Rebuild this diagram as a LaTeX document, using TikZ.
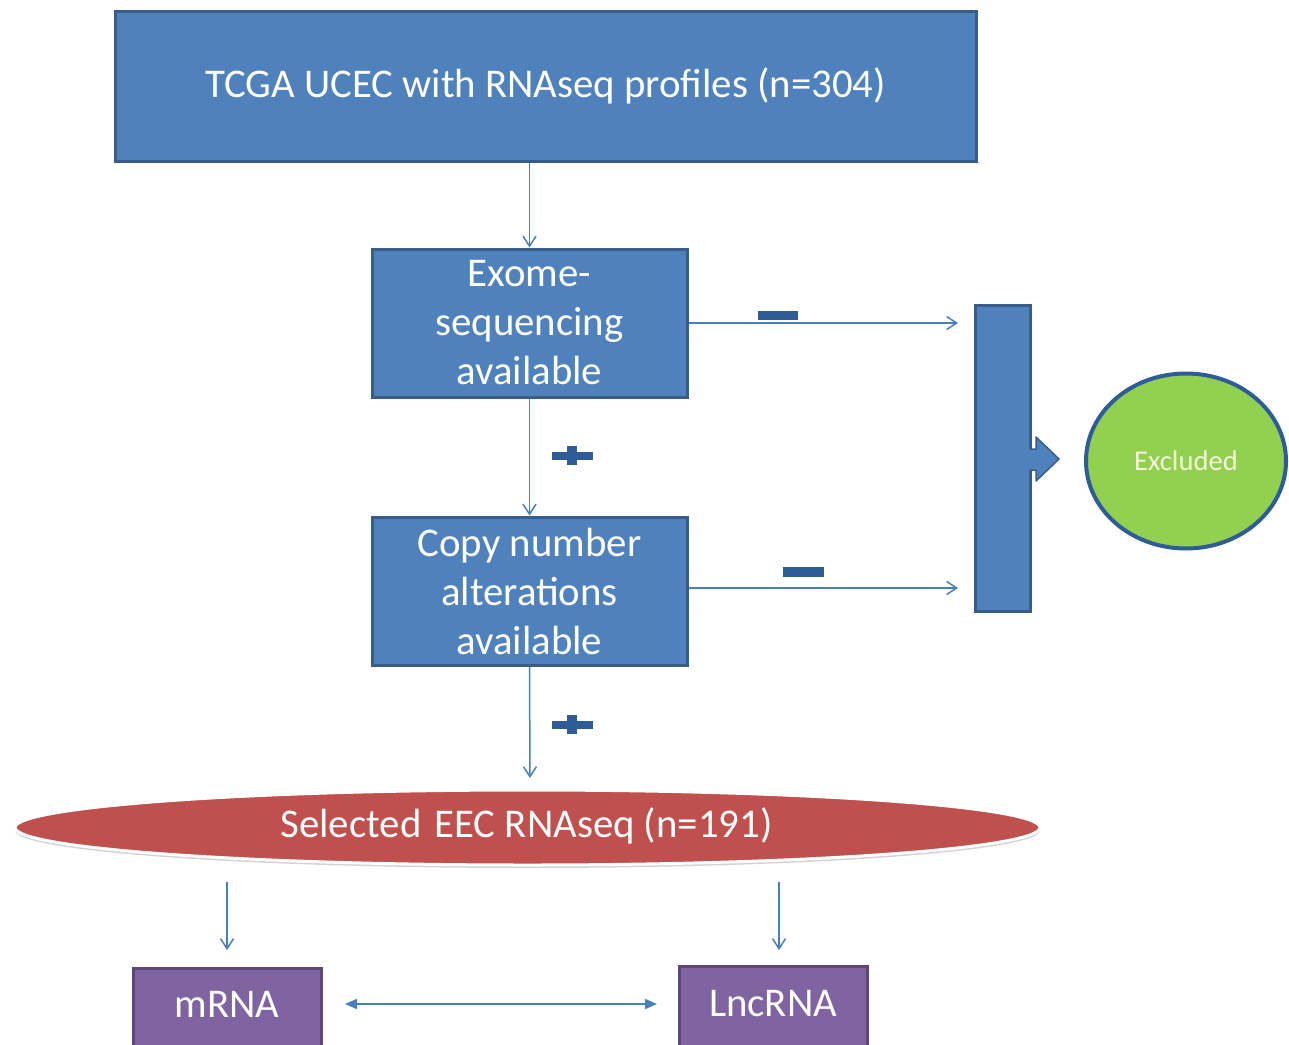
\documentclass[tikz,border=0pt]{standalone}
\usepackage{fontspec}
\setmainfont{Carlito}
\usetikzlibrary{arrows.meta,fit,shapes.geometric,shadows}
\definecolor{boxblue}{HTML}{4F81BD}
\definecolor{boxborder}{HTML}{385D8A}
\definecolor{arrowblue}{HTML}{4A7EBB}
\definecolor{signblue}{HTML}{2F5B96}
\definecolor{purplefill}{HTML}{8064A2}
\definecolor{purpleborder}{HTML}{5C4776}
\definecolor{redfill}{HTML}{C0504D}
\definecolor{exgreen}{HTML}{92D050}
\definecolor{circborder}{HTML}{2E5C9A}
\definecolor{extext}{HTML}{F4F8D8}
\newcommand\myfs{\fontsize{20.4}{24.5}\selectfont}
\begin{document}
\begin{tikzpicture}[x=0.5pt,y=-0.5pt,
  bluebox/.style={draw=boxborder, fill=boxblue, line width=1.5pt, inner sep=0pt},
  purplebox/.style={draw=purpleborder, fill=purplefill, line width=1.5pt, inner sep=0pt},
  plaintext/.style={text=white, font=\myfs, inner sep=0pt, align=center},
  flow/.style={draw=arrowblue, line width=0.75pt, -{Straight Barb[length=5pt,width=6.5pt]}},
  twoway/.style={draw=arrowblue, line width=0.9pt, {Triangle[length=6pt,width=5pt]}-{Triangle[length=6pt,width=5pt]}},
  sign/.style={fill=signblue}
]
\useasboundingbox (0,0) rectangle (1289,1044);
\clip (0,0) rectangle (1289,1044);

% boxes
\node[bluebox, fit={(115,11) (976,161)}] (top) {};
\node[plaintext] (toptxt) at (top.center) {TCGA UCEC with RNAseq profiles (n=304)};
\node[bluebox, fit={(372,249) (687,397)}] (exome) {};
\node[plaintext] (exometxt) at (exome.center) {Exome-\\sequencing\\available};
\node[bluebox, fit={(372,517) (687,665)}] (copy) {};
\node[plaintext] (copytxt) at (copy.center) {Copy number\\alterations\\available};
\node[bluebox, fit={(975,305) (1030,611)}] (bar) {};

% block arrow from bar
\fill[boxblue] (1028,449) -- (1036,449) -- (1036,437) -- (1059,459) -- (1036,481) -- (1036,470) -- (1028,470) -- cycle;
\draw[boxborder, line width=0.75pt, line join=round] (1030,449) -- (1036,449) -- (1036,437) -- (1059,459) -- (1036,481) -- (1036,470) -- (1030,470);

% excluded
\node[ellipse, draw=circborder, line width=2pt, fill=exgreen, minimum width=100pt, minimum height=87.5pt, inner sep=0pt, text=extext, font=\fontsize{14.3}{17}\selectfont] (excl) at (1186,461) {Excluded};

% selected ellipse
\node[ellipse, fill=redfill, draw=white, line width=1.5pt, minimum width=512.5pt, minimum height=37.5pt, inner sep=0pt,
  drop shadow={opacity=0.35, shadow xshift=0pt, shadow yshift=-1.5pt, fill=gray}] (sel) at (527.5,827.5) {};
\node[plaintext] (seltxt) at (526.5,826) {Selected\hspace{2pt} EEC RNAseq (n=191)};

% bottom boxes
\node[purplebox, fit={(133,968) (321,1056)}] (mrna) {};
\node[plaintext] (mrnatxt) at (227,1004) {mRNA};
\node[purplebox, fit={(679,966) (867,1056)}] (lnc) {};
\node[plaintext] (lnctxt) at (773,1004) {LncRNA};

% coordinates
\coordinate (c1) at (958,323);
\coordinate (c2) at (958,588);
\coordinate (c3) at (530,778);
\coordinate (m0) at (227,882);
\coordinate (m1) at (227,950);
\coordinate (l0) at (779,882);
\coordinate (l1) at (779,950);
\coordinate (d0) at (345,1004);
\coordinate (d1) at (657,1004);

% connectors
\draw[flow] (exome.north |- top.south) -- (exome.north);
\draw[flow] (exome.south) -- (copy.north);
\draw[flow] (copy.south) -- (c3);
\draw[flow] (exome.east) -- (c1);
\draw[flow] (copy.east |- c2) -- (c2);
\draw[flow] (m0) -- (m1);
\draw[flow] (l0) -- (l1);
\draw[twoway] (d0) -- (d1);

% plus / minus signs
\fill[sign] (552,452) rectangle (593,460);
\fill[sign] (567,446) rectangle (577,465);
\fill[sign] (552,721) rectangle (593,729);
\fill[sign] (567,715) rectangle (577,734);
\fill[sign] (758,311) rectangle (798,320);
\fill[sign] (783,567) rectangle (824,577);
\end{tikzpicture}
\end{document}
